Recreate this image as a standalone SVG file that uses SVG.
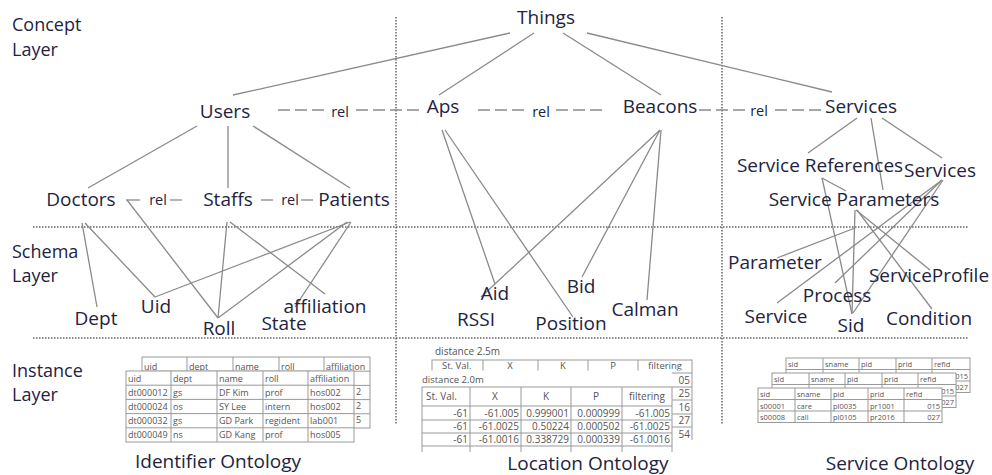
<svg xmlns="http://www.w3.org/2000/svg" width="992" height="475" viewBox="0 0 992 475">
<defs>
<style>
text{font-family:"Open Sans","Noto Sans",sans-serif;fill:#23233f}
.n{font-size:19px;text-anchor:middle}
.ly{font-size:18px}
.rel{font-size:14.5px;text-anchor:middle}
.c{stroke:#8a8a8a;stroke-width:1.3;fill:none}
.d{stroke:#8a8a8a;stroke-width:1.5;stroke-dasharray:12 5;fill:none}
.div{stroke:#666;stroke-width:1.5;stroke-dasharray:1.5 1.5;fill:none}
.tb{fill:#fff;stroke:#999;stroke-width:1}
.tl{stroke:#999;stroke-width:1}
.t9{font-size:9px;fill:#555}
.t10{font-size:10px;fill:#555}
.t95{font-size:9.5px;fill:#555}
.t7{font-size:7.5px;fill:#555}
.r{text-anchor:end}
.m{text-anchor:middle}
</style>
<clipPath id="cl1"><rect x="410" y="340" width="300" height="30.5"/></clipPath>
<clipPath id="cl2"><rect x="410" y="340" width="300" height="100"/></clipPath>
<clipPath id="cl3"><rect x="410" y="380" width="300" height="72"/></clipPath>
<clipPath id="cl4"><rect x="140" y="350" width="240" height="20.5"/></clipPath>
</defs>
<rect width="992" height="475" fill="#fff"/>

<!-- dividers -->
<g id="dividers">
<line class="div" x1="33" y1="227" x2="968" y2="227"/>
<line class="div" x1="33" y1="338" x2="968" y2="338"/>
<line class="div" x1="396" y1="17" x2="396" y2="425"/>
<line class="div" x1="722" y1="17" x2="722" y2="425"/>
</g>

<!-- layer labels -->
<g id="layer-labels">
<text class="ly" x="12" y="31">Concept</text>
<text class="ly" x="12" y="56">Layer</text>
<text class="ly" x="12" y="258">Schema</text>
<text class="ly" x="12" y="282">Layer</text>
<text class="ly" x="12" y="377">Instance</text>
<text class="ly" x="12" y="401">Layer</text>
</g>

<!-- connectors -->
<g id="connectors">
<line class="c" x1="510" y1="33" x2="233" y2="95"/>
<line class="c" x1="534" y1="33" x2="439" y2="95"/>
<line class="c" x1="563" y1="33" x2="661" y2="95"/>
<line class="c" x1="587" y1="33" x2="832" y2="92"/>
<line class="c" x1="197" y1="126" x2="88" y2="188"/>
<line class="c" x1="228" y1="126" x2="228" y2="188"/>
<line class="c" x1="253" y1="126" x2="350" y2="188"/>
<line class="c" x1="82" y1="223" x2="97" y2="307"/>
<line class="c" x1="85" y1="223" x2="155" y2="297"/>
<line class="c" x1="127" y1="200" x2="218" y2="318"/>
<line class="c" x1="227" y1="222" x2="218" y2="318"/>
<line class="c" x1="230" y1="222" x2="325" y2="294"/>
<line class="c" x1="350" y1="222" x2="155" y2="297"/>
<line class="c" x1="347" y1="222" x2="218" y2="318"/>
<line class="c" x1="351" y1="222" x2="295" y2="307"/>
<line class="c" x1="442" y1="130" x2="495" y2="284"/>
<line class="c" x1="445" y1="130" x2="573" y2="317"/>
<line class="c" x1="660" y1="130" x2="481" y2="297"/>
<line class="c" x1="660" y1="130" x2="582" y2="277"/>
<line class="c" x1="661" y1="130" x2="647" y2="300"/>
<line class="c" x1="857" y1="118" x2="808" y2="153"/>
<line class="c" x1="871" y1="118" x2="883" y2="190"/>
<line class="c" x1="882" y1="118" x2="942" y2="158"/>
<line class="c" x1="822" y1="178" x2="852" y2="314"/>
<line class="c" x1="822" y1="178" x2="846" y2="191"/>
<line class="c" x1="855" y1="210" x2="852" y2="314"/>
<line class="c" x1="856" y1="210" x2="930" y2="270"/>
<line class="c" x1="857" y1="210" x2="932" y2="309"/>
<line class="c" x1="777" y1="258" x2="855" y2="228"/>
<line class="c" x1="942" y1="180" x2="777" y2="303"/>
<line class="c" x1="942" y1="180" x2="835" y2="283"/>
<line class="c" x1="943" y1="180" x2="853" y2="313"/>
<!-- rel links -->
<line class="d" x1="278" y1="110" x2="328" y2="110"/>
<line class="d" x1="356" y1="110" x2="420" y2="110"/>
<line class="d" x1="478" y1="110" x2="528" y2="110"/>
<line class="d" x1="556" y1="110" x2="606" y2="110"/>
<line class="d" x1="699" y1="110" x2="748" y2="110"/>
<line class="d" x1="775" y1="110" x2="822" y2="110"/>
<line class="c" x1="126" y1="200" x2="140" y2="200"/>
<line class="c" x1="170" y1="200" x2="182" y2="200"/>
<line class="c" x1="261" y1="200" x2="273" y2="200"/>
<line class="c" x1="301" y1="200" x2="313" y2="200"/>
<text class="rel" x="340" y="117">rel</text>
<text class="rel" x="541" y="117">rel</text>
<text class="rel" x="759" y="116">rel</text>
<text class="rel" x="158" y="205">rel</text>
<text class="rel" x="290" y="205">rel</text>
</g>

<!-- concept nodes -->
<g id="things"><text class="n" x="546" y="24">Things</text></g>
<g id="users"><text class="n" x="225" y="118">Users</text></g>
<g id="aps"><text class="n" x="443" y="113">Aps</text></g>
<g id="beacons"><text class="n" x="660" y="113">Beacons</text></g>
<g id="services"><text class="n" x="861" y="113">Services</text></g>
<g id="doctors"><text class="n" x="81" y="206">Doctors</text></g>
<g id="staffs"><text class="n" x="228" y="206">Staffs</text></g>
<g id="patients"><text class="n" x="354" y="206">Patients</text></g>
<g id="service-references"><text class="n" x="820" y="172">Service References</text></g>
<g id="services-2"><text class="n" x="940" y="177">Services</text></g>
<g id="service-parameters"><text class="n" x="854" y="206">Service Parameters</text></g>

<!-- schema nodes -->
<g id="dept"><text class="n" x="96" y="325">Dept</text></g>
<g id="uid"><text class="n" x="156" y="313">Uid</text></g>
<g id="roll"><text class="n" x="219" y="335">Roll</text></g>
<g id="state"><text class="n" x="284" y="330">State</text></g>
<g id="affiliation"><text class="n" x="325" y="313">affiliation</text></g>
<g id="aid"><text class="n" x="495" y="300">Aid</text></g>
<g id="rssi"><text class="n" x="476" y="326">RSSI</text></g>
<g id="bid"><text class="n" x="581" y="293">Bid</text></g>
<g id="position"><text class="n" x="571" y="330">Position</text></g>
<g id="calman"><text class="n" x="645" y="316">Calman</text></g>
<g id="parameter"><text class="n" x="775" y="269">Parameter</text></g>
<g id="serviceprofile"><text class="n" x="929" y="282">ServiceProfile</text></g>
<g id="process"><text class="n" x="837" y="302">Process</text></g>
<g id="service"><text class="n" x="776" y="323">Service</text></g>
<g id="sid"><text class="n" x="851" y="332">Sid</text></g>
<g id="condition"><text class="n" x="929" y="325">Condition</text></g>

<!-- Identifier tables -->
<g id="identifier-tables">
<g id="id-back">
<rect class="tb" x="142" y="357" width="228" height="71"/>
<line class="tl" x1="142" y1="371.2" x2="370" y2="371.2"/>
<line class="tl" x1="142" y1="385.4" x2="370" y2="385.4"/>
<line class="tl" x1="142" y1="399.6" x2="370" y2="399.6"/>
<line class="tl" x1="142" y1="413.8" x2="370" y2="413.8"/>
<line class="tl" x1="187" y1="357" x2="187" y2="428"/>
<line class="tl" x1="233" y1="357" x2="233" y2="428"/>
<line class="tl" x1="279" y1="357" x2="279" y2="428"/>
<line class="tl" x1="324" y1="357" x2="324" y2="428"/>
<g clip-path="url(#cl4)">
<text class="t9" x="144" y="370">uid</text>
<text class="t9" x="189" y="370">dept</text>
<text class="t9" x="235" y="370">name</text>
<text class="t9" x="281" y="370">roll</text>
<text class="t9" x="326" y="370">affiliation</text>
</g>
<text class="t9" x="356" y="395">2</text>
<text class="t9" x="356" y="409">2</text>
<text class="t9" x="356" y="423">5</text>
</g>
<g id="id-front">
<rect class="tb" x="126" y="371" width="228" height="71"/>
<line class="tl" x1="126" y1="385.2" x2="354" y2="385.2"/>
<line class="tl" x1="126" y1="399.4" x2="354" y2="399.4"/>
<line class="tl" x1="126" y1="413.6" x2="354" y2="413.6"/>
<line class="tl" x1="126" y1="427.8" x2="354" y2="427.8"/>
<line class="tl" x1="171" y1="371" x2="171" y2="442"/>
<line class="tl" x1="217" y1="371" x2="217" y2="442"/>
<line class="tl" x1="263" y1="371" x2="263" y2="442"/>
<line class="tl" x1="308" y1="371" x2="308" y2="442"/>
<text class="t9" x="128" y="381.5">uid</text>
<text class="t9" x="173" y="381.5">dept</text>
<text class="t9" x="219" y="381.5">name</text>
<text class="t9" x="265" y="381.5">roll</text>
<text class="t9" x="310" y="381.5">affiliation</text>
<text class="t9" x="128" y="395.7">dt000012</text>
<text class="t9" x="173" y="395.7">gs</text>
<text class="t9" x="219" y="395.7">DF Kim</text>
<text class="t9" x="265" y="395.7">prof</text>
<text class="t9" x="310" y="395.7">hos002</text>
<text class="t9" x="128" y="409.9">dt000024</text>
<text class="t9" x="173" y="409.9">os</text>
<text class="t9" x="219" y="409.9">SY Lee</text>
<text class="t9" x="265" y="409.9">intern</text>
<text class="t9" x="310" y="409.9">hos002</text>
<text class="t9" x="128" y="424.1">dt000032</text>
<text class="t9" x="173" y="424.1">gs</text>
<text class="t9" x="219" y="424.1">GD Park</text>
<text class="t9" x="265" y="424.1">regident</text>
<text class="t9" x="310" y="424.1">lab001</text>
<text class="t9" x="128" y="438.3">dt000049</text>
<text class="t9" x="173" y="438.3">ns</text>
<text class="t9" x="219" y="438.3">GD Kang</text>
<text class="t9" x="265" y="438.3">prof</text>
<text class="t9" x="310" y="438.3">hos005</text>
</g>
</g>

<!-- Location tables -->
<g id="location-tables">
<text class="t10" x="435" y="355">distance 2.5m</text>
<g id="loc-back" clip-path="url(#cl2)">
<rect class="tb" x="432" y="360" width="260" height="90"/>
<line class="tl" x1="432" y1="373" x2="692" y2="373"/>
<line class="tl" x1="432" y1="387" x2="692" y2="387"/>
<line class="tl" x1="432" y1="400" x2="692" y2="400"/>
<line class="tl" x1="432" y1="414" x2="692" y2="414"/>
<line class="tl" x1="432" y1="427" x2="692" y2="427"/>
<line class="tl" x1="483" y1="360" x2="483" y2="450"/>
<line class="tl" x1="538" y1="360" x2="538" y2="450"/>
<line class="tl" x1="588" y1="360" x2="588" y2="450"/>
<line class="tl" x1="638" y1="360" x2="638" y2="450"/>
<text class="t10 r" x="690" y="384">05</text>
<text class="t10 r" x="690" y="397">25</text>
<text class="t10 r" x="690" y="411">16</text>
<text class="t10 r" x="690" y="424">27</text>
<text class="t10 r" x="690" y="438">54</text>
</g>
<g clip-path="url(#cl1)">
<text class="t95" x="442" y="369">St. Val.</text>
<text class="t95 m" x="510" y="369">X</text>
<text class="t95 m" x="563" y="369">K</text>
<text class="t95 m" x="613" y="369">P</text>
<text class="t95 m" x="665" y="369">filtering</text>
</g>
<rect x="417" y="370.5" width="255" height="84.5" fill="#fff"/>
<text class="t95" x="422" y="382.5">distance 2.0m</text>
<g id="loc-front" clip-path="url(#cl3)">
<rect class="tb" x="422" y="387" width="250" height="72"/>
<line class="tl" x1="422" y1="406" x2="672" y2="406"/>
<line class="tl" x1="422" y1="420" x2="672" y2="420"/>
<line class="tl" x1="422" y1="433" x2="672" y2="433"/>
<line class="tl" x1="422" y1="446" x2="672" y2="446"/>
<line class="tl" x1="470" y1="387" x2="470" y2="459"/>
<line class="tl" x1="521" y1="387" x2="521" y2="459"/>
<line class="tl" x1="571" y1="387" x2="571" y2="459"/>
<line class="tl" x1="622" y1="387" x2="622" y2="459"/>
<text class="t10" x="426" y="400">St. Val.</text>
<text class="t10 m" x="495" y="400">X</text>
<text class="t10 m" x="546" y="400">K</text>
<text class="t10 m" x="596" y="400">P</text>
<text class="t10 m" x="647" y="400">filtering</text>
<text class="t10 r" x="468" y="417">-61</text>
<text class="t10 r" x="519" y="417">-61.005</text>
<text class="t10 r" x="569" y="417">0.999001</text>
<text class="t10 r" x="620" y="417">0.000999</text>
<text class="t10 r" x="670" y="417">-61.005</text>
<text class="t10 r" x="468" y="430">-61</text>
<text class="t10 r" x="519" y="430">-61.0025</text>
<text class="t10 r" x="569" y="430">0.50224</text>
<text class="t10 r" x="620" y="430">0.000502</text>
<text class="t10 r" x="670" y="430">-61.0025</text>
<text class="t10 r" x="468" y="443">-61</text>
<text class="t10 r" x="519" y="443">-61.0016</text>
<text class="t10 r" x="569" y="443">0.338729</text>
<text class="t10 r" x="620" y="443">0.000339</text>
<text class="t10 r" x="670" y="443">-61.0016</text>
</g>
</g>

<!-- Service tables -->
<g id="service-tables">
<g id="svc-back1">
<rect class="tb" x="786" y="358" width="184" height="34.5"/>
<line class="tl" x1="786" y1="369.5" x2="970" y2="369.5"/>
<line class="tl" x1="786" y1="381" x2="970" y2="381"/>
<line class="tl" x1="823" y1="358" x2="823" y2="392.5"/>
<line class="tl" x1="859" y1="358" x2="859" y2="392.5"/>
<line class="tl" x1="896" y1="358" x2="896" y2="392.5"/>
<line class="tl" x1="932" y1="358" x2="932" y2="392.5"/>
<text class="t7" x="788" y="367">sid</text>
<text class="t7" x="825" y="367">sname</text>
<text class="t7" x="861" y="367">pid</text>
<text class="t7" x="898" y="367">prid</text>
<text class="t7" x="934" y="367">refid</text>
<text class="t7 r" x="968" y="378.5">015</text>
<text class="t7 r" x="968" y="390">027</text>
</g>
<g id="svc-back2">
<rect class="tb" x="772" y="373" width="184" height="34.5"/>
<line class="tl" x1="772" y1="384.5" x2="956" y2="384.5"/>
<line class="tl" x1="772" y1="396" x2="956" y2="396"/>
<line class="tl" x1="809" y1="373" x2="809" y2="407.5"/>
<line class="tl" x1="845" y1="373" x2="845" y2="407.5"/>
<line class="tl" x1="882" y1="373" x2="882" y2="407.5"/>
<line class="tl" x1="918" y1="373" x2="918" y2="407.5"/>
<text class="t7" x="774" y="382">sid</text>
<text class="t7" x="811" y="382">sname</text>
<text class="t7" x="847" y="382">pid</text>
<text class="t7" x="884" y="382">prid</text>
<text class="t7" x="920" y="382">refid</text>
<text class="t7 r" x="954" y="393.5">015</text>
<text class="t7 r" x="954" y="405">027</text>
</g>
<g id="svc-front">
<rect class="tb" x="758" y="388" width="184" height="34.5"/>
<line class="tl" x1="758" y1="399.5" x2="942" y2="399.5"/>
<line class="tl" x1="758" y1="411" x2="942" y2="411"/>
<line class="tl" x1="795" y1="388" x2="795" y2="422.5"/>
<line class="tl" x1="831" y1="388" x2="831" y2="422.5"/>
<line class="tl" x1="868" y1="388" x2="868" y2="422.5"/>
<line class="tl" x1="904" y1="388" x2="904" y2="422.5"/>
<text class="t7" x="760" y="397">sid</text>
<text class="t7" x="797" y="397">sname</text>
<text class="t7" x="833" y="397">pid</text>
<text class="t7" x="870" y="397">prid</text>
<text class="t7" x="906" y="397">refid</text>
<text class="t7" x="760" y="408.5">s00001</text>
<text class="t7" x="797" y="408.5">care</text>
<text class="t7" x="833" y="408.5">pl0035</text>
<text class="t7" x="870" y="408.5">pr1001</text>
<text class="t7 r" x="940" y="408.5">015</text>
<text class="t7" x="760" y="420">s00008</text>
<text class="t7" x="797" y="420">call</text>
<text class="t7" x="833" y="420">pl0105</text>
<text class="t7" x="870" y="420">pr2016</text>
<text class="t7 r" x="940" y="420">027</text>
</g>
</g>

<!-- ontology titles -->
<g id="titles">
<text class="n" x="218" y="468">Identifier Ontology</text>
<text class="n" x="588" y="470">Location Ontology</text>
<text class="n" x="900" y="470">Service Ontology</text>
</g>
</svg>
